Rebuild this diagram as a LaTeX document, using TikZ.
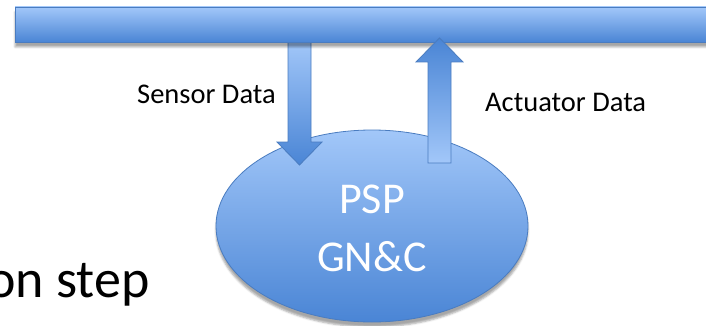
\documentclass[tikz,border=0pt]{standalone}
\usepackage{fontspec}
\setmainfont{Carlito}
\usetikzlibrary{shapes.geometric,shadows.blur}

\definecolor{lightblue}{HTML}{A2C7F9}
\definecolor{darkblue}{HTML}{4A85D5}
\definecolor{edgeblue}{HTML}{4A7CC0}

\begin{document}
\begin{tikzpicture}[x=1pt,y=-1pt,
    bus/.style={rectangle, draw=edgeblue, line width=0.8pt,
        top color=lightblue, bottom color=darkblue,
        minimum width=697pt, minimum height=35pt, inner sep=0pt,
        blur shadow={shadow xshift=0pt, shadow yshift=-5pt, shadow opacity=35}},
    proc/.style={ellipse, draw=edgeblue, line width=0.8pt,
        top color=lightblue, bottom color=darkblue,
        minimum width=312pt, minimum height=192pt, inner sep=0pt,
        blur shadow={shadow xshift=0pt, shadow yshift=-5pt, shadow opacity=35}},
    proctext/.style={text=white, align=center, inner sep=0pt,
        font=\fontsize{44}{58}\selectfont},
    flow/.style={draw=edgeblue, line width=0.8pt},
    lbl/.style={font=\fontsize{28.5}{34}\selectfont, inner sep=0pt}
]
    \useasboundingbox (0,0) rectangle (706,326);

    % Processor
    \node[proc] (psp) at (372,226) {};
    \node[proctext] (psplbl) at ([yshift=-2pt]psp.center) {PSP\\GN\&C};

    % Sensor data goes down, from the bus into the processor
    \coordinate (sensor) at (299.5,42);
    \draw[flow, top color=lightblue, bottom color=darkblue]
        (sensor) ++(-11.5,-2) -- ++(0,102) -- ++(-11,0) -- ++(22.5,23)
        -- ++(22.5,-23) -- ++(-11,0) -- ++(0,-102) -- cycle;

    % Data bus
    \node[bus] (bus) at (363.5,24.5) {};

    % Actuator data goes up, from the processor to the bus
    \coordinate (actuator) at (439.5,163);
    \draw[flow, top color=darkblue, bottom color=lightblue]
        (actuator) ++(-11.5,0) -- ++(0,-101) -- ++(-12,0) -- ++(23.5,-24)
        -- ++(23.5,24) -- ++(-12,0) -- ++(0,101) -- cycle;

    % Labels
    \node[lbl, anchor=base west] (sensorlbl) at (137,103) {Sensor Data};
    \node[lbl, anchor=base west] (actuatorlbl) at (485,112) {Actuator Data};
    \node[font=\fontsize{54}{60}\selectfont, inner sep=0pt, anchor=base west] (steplbl) at (-13,297) {on step};
\end{tikzpicture}
\end{document}
